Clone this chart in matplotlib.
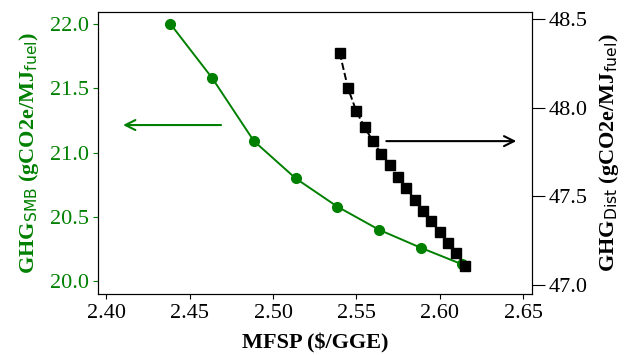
import numpy as np
import matplotlib as mpl
mpl.use('Agg')
import matplotlib.pyplot as plt

plt.rcParams['font.family'] = ['Liberation Serif', 'DejaVu Sans']

# Curva SMB (eixo esquerdo)
mfsp_smb = [2.4385, 2.4635, 2.4885, 2.5135, 2.5385, 2.5635, 2.5885, 2.6135]
ghg_smb = [22.00, 21.58, 21.09, 20.80, 20.58, 20.40, 20.26, 20.13]

# Curva Dist (eixo direito)
mfsp_dist = [2.540, 2.545, 2.550, 2.555, 2.560, 2.565, 2.570, 2.575,
             2.580, 2.585, 2.590, 2.595, 2.600, 2.605, 2.610, 2.615]
ghg_dist = [48.31, 48.11, 47.98, 47.89, 47.81, 47.74, 47.68, 47.61,
            47.55, 47.48, 47.42, 47.36, 47.30, 47.24, 47.18, 47.11]

xticks = [2.40, 2.45, 2.50, 2.55, 2.60, 2.65]

fig = plt.figure(figsize=(6.26, 3.55), dpi=100)
ax = fig.add_axes([0.157, 0.172, 0.693, 0.794])
ax2 = ax.twinx()

ax.plot(mfsp_smb, ghg_smb, '-o', color='green', lw=1.4, ms=7)
ax2.plot(mfsp_dist, ghg_dist, '--s', color='black', lw=1.4, ms=6.5)

ax.set_xlim(2.3952, 2.6554)
ax.set_ylim(19.9, 22.093)
ax2.set_ylim(46.95, 48.54)
ax.set_xticks(xticks)
ax.set_yticks([20.0, 20.5, 21.0, 21.5, 22.0])
ax2.set_yticks([47.0, 47.5, 48.0, 48.5])

ax.tick_params(labelsize=16)
ax.tick_params(axis='y', colors='green')
ax2.tick_params(labelsize=16, length=9, pad=3)

ax.set_xlabel('MFSP (\\$/GGE)', fontsize=16, fontweight='bold', labelpad=8)
ax.set_ylabel(r'GHG$_{\mathrm{SMB}}$ (gCO2e/MJ$_{\mathrm{fuel}}$)', fontsize=16,
              fontweight='bold', color='green', labelpad=6)
ax2.set_ylabel(r'GHG$_{\mathrm{Dist}}$ (gCO2e/MJ$_{\mathrm{fuel}}$)', fontsize=16,
               fontweight='bold', color='black', labelpad=7)

# setas indicando o eixo de cada curva
ax.annotate('', xy=(2.4084, 21.214), xytext=(2.4705, 21.214),
            arrowprops=dict(arrowstyle='->', color='green', lw=1.5, mutation_scale=18))
ax2.annotate('', xy=(2.6476, 47.812), xytext=(2.5663, 47.812),
             arrowprops=dict(arrowstyle='->', color='black', lw=1.5, mutation_scale=18))

plt.savefig('out.png', dpi=100)
